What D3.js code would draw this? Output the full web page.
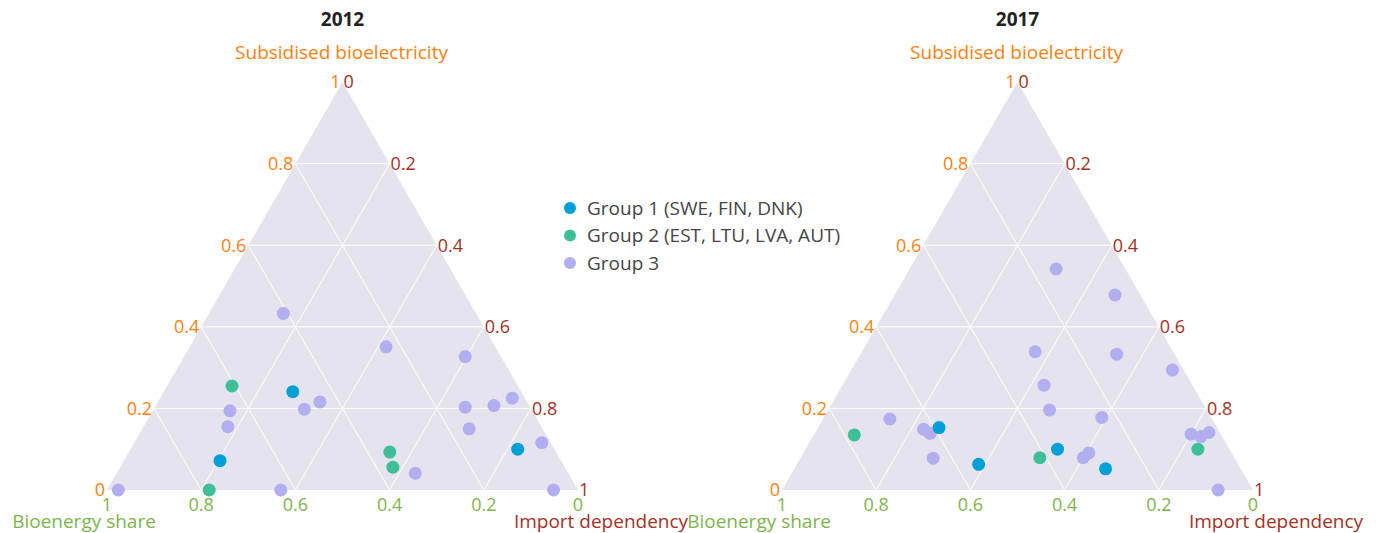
<!DOCTYPE html>
<html>
<head>
<meta charset="utf-8">
<script src="https://cdn.jsdelivr.net/npm/d3@7"></script>
<style>
  body { margin: 0; background: #fff; }
  text { font-family: "Open Sans", sans-serif; }
</style>
</head>
<body>
<script>

    var width = 1378, height = 533;

    var svg = d3.select("body")
    .append("svg")
    .attr("width", width)
    .attr("height", height);

    /* values, each point is [subsidised, bioenergy, import] */

    var years = ["2012", "2017"];
    var groups = ["Group 1 (SWE, FIN, DNK)", "Group 2 (EST, LTU, LVA, AUT)", "Group 3"];
    var axisTitles = ["Subsidised bioelectricity", "Bioenergy share", "Import dependency"];
    var ticks = [0, 0.2, 0.4, 0.6, 0.8, 1];
    var tickLabels = ["0", "0.2", "0.4", "0.6", "0.8", "1"];

    var g1_2012 = [[0.241, 0.485, 0.274], [0.072, 0.724, 0.204], [0.100, 0.078, 0.822]];
    var g2_2012 = [[0.255, 0.607, 0.138], [0.000, 0.783, 0.217], [0.093, 0.353, 0.554], [0.056, 0.365, 0.579]];
    var g3_2012 = [
        [0.433, 0.409, 0.158], [0.351, 0.232, 0.417], [0.327, 0.076, 0.597], [0.216, 0.440, 0.344],
        [0.198, 0.482, 0.320], [0.194, 0.642, 0.164], [0.155, 0.666, 0.179], [0.203, 0.138, 0.659],
        [0.207, 0.075, 0.718], [0.225, 0.027, 0.748], [0.150, 0.156, 0.694], [0.116, 0.019, 0.865],
        [0.041, 0.325, 0.634], [0.000, 0.976, 0.024], [0.000, 0.631, 0.369], [0.000, 0.052, 0.948]
    ];

    var g1_2017 = [[0.153, 0.590, 0.257], [0.063, 0.551, 0.386], [0.100, 0.365, 0.535], [0.052, 0.287, 0.661]];
    var g2_2017 = [[0.135, 0.779, 0.086], [0.079, 0.413, 0.508], [0.100, 0.067, 0.833]];
    var g3_2017 = [
        [0.542, 0.147, 0.311], [0.478, 0.054, 0.468], [0.339, 0.293, 0.368], [0.333, 0.123, 0.544],
        [0.294, 0.024, 0.682], [0.257, 0.315, 0.428], [0.196, 0.334, 0.470], [0.178, 0.232, 0.590],
        [0.174, 0.684, 0.142], [0.149, 0.625, 0.226], [0.139, 0.616, 0.245], [0.078, 0.640, 0.282],
        [0.079, 0.321, 0.600], [0.091, 0.303, 0.606], [0.137, 0.063, 0.800], [0.131, 0.045, 0.824],
        [0.141, 0.023, 0.836], [0.000, 0.074, 0.926]
    ];

    var series = {
        "2012": [g1_2012, g2_2012, g3_2012],
        "2017": [g1_2017, g2_2017, g3_2017]
    };

    var colors = ["#00a0d6", "#3ebf98", "#b2aef0"];
    var axisColors = ["#ff7f0e", "#7db54d", "#a5301f"];

    // one ternary per year
    var panels = [
        {year: "2012", left: 107},
        {year: "2017", left: 782}
    ];
    var side = 471, base = 490, triH = side * Math.sqrt(3) / 2;

    panels.forEach(function(p) {

        var x = d3.scaleLinear().domain([0, 1]).range([p.left, p.left + side]);
        var y = d3.scaleLinear().domain([0, 1]).range([base, base - triH]);

        // a = subsidised (top), b = bioenergy (bottom left), c = import (bottom right)
        function px(a, b, c) { return x(c + a / 2); }
        function py(a, b, c) { return y(a); }
        function pt(a, b, c) { return px(a, b, c) + "," + py(a, b, c); }

        var g = svg.append("g").attr("class", "ternary");

        g.append("polygon")
        .attr("points", [pt(1, 0, 0), pt(0, 1, 0), pt(0, 0, 1)].join(" "))
        .style("fill", "#e5e4ee");

        // grid
        var inner = ticks.slice(1, -1);
        var lines = [];
        inner.forEach(function(t) {
            lines.push([[t, 1 - t, 0], [t, 0, 1 - t]]);
            lines.push([[1 - t, t, 0], [0, t, 1 - t]]);
            lines.push([[1 - t, 0, t], [0, 1 - t, t]]);
        });

        g.selectAll("line.grid")
        .data(lines)
        .enter().append("line")
        .attr("class", "grid")
        .attr("x1", function(d) { return px.apply(null, d[0]); })
        .attr("y1", function(d) { return py.apply(null, d[0]); })
        .attr("x2", function(d) { return px.apply(null, d[1]); })
        .attr("y2", function(d) { return py.apply(null, d[1]); })
        .style("stroke", "#fff")
        .style("stroke-width", 1);

        // tick labels
        g.selectAll("text.atick")
        .data(ticks)
        .enter().append("text")
        .attr("class", "atick")
        .attr("x", function(d) { return px(d, 1 - d, 0) - 2; })
        .attr("y", function(d) { return py(d, 1 - d, 0); })
        .attr("dy", "0.35em")
        .style("text-anchor", "end")
        .style("font-size", "18px")
        .style("fill", axisColors[0])
        .text(function(d, i) { return tickLabels[i]; });

        g.selectAll("text.ctick")
        .data(ticks)
        .enter().append("text")
        .attr("class", "ctick")
        .attr("x", function(d) { return px(1 - d, 0, d) + 1; })
        .attr("y", function(d) { return py(1 - d, 0, d); })
        .attr("dy", "0.35em")
        .style("text-anchor", "start")
        .style("font-size", "18px")
        .style("fill", axisColors[2])
        .text(function(d, i) { return tickLabels[i]; });

        g.selectAll("text.btick")
        .data(ticks)
        .enter().append("text")
        .attr("class", "btick")
        .attr("x", function(d) { return px(0, d, 1 - d); })
        .attr("y", base + 15)
        .attr("dy", "0.35em")
        .style("text-anchor", "middle")
        .style("font-size", "18px")
        .style("fill", axisColors[1])
        .text(function(d, i) { return tickLabels[i]; });

        // titles
        g.append("text")
        .attr("x", px(1, 0, 0))
        .attr("y", 26)
        .style("text-anchor", "middle")
        .style("font-size", "19px")
        .style("font-weight", "bold")
        .style("fill", "#222")
        .text(p.year);

        g.append("text")
        .attr("x", px(1, 0, 0) - 1)
        .attr("y", 59)
        .style("text-anchor", "middle")
        .style("font-size", "19px")
        .style("fill", axisColors[0])
        .text(axisTitles[0]);

        g.append("text")
        .attr("x", px(0, 1, 0) - 23)
        .attr("y", 528)
        .style("text-anchor", "middle")
        .style("font-size", "19px")
        .style("fill", axisColors[1])
        .text(axisTitles[1]);

        g.append("text")
        .attr("x", px(0, 0, 1) + 23)
        .attr("y", 528)
        .style("text-anchor", "middle")
        .style("font-size", "19px")
        .style("fill", axisColors[2])
        .text(axisTitles[2]);

        // points, group 3 first so groups 1 and 2 sit on top
        var sets = series[p.year];
        [2, 1, 0].forEach(function(k) {
            g.selectAll("circle.g" + k)
            .data(sets[k])
            .enter().append("circle")
            .attr("class", "g" + k)
            .attr("cx", function(d) { return px(d[0], d[1], d[2]); })
            .attr("cy", function(d) { return py(d[0], d[1], d[2]); })
            .attr("r", 6.5)
            .style("fill", colors[k]);
        });
    });


    // Draw legend
    var legend = svg.selectAll(".legend")
    .data(groups)
    .enter().append("g")
    .attr("class", "legend")
    .attr("transform", function(d, i) { return "translate(570," + (208 + i * 27.5) + ")"; });

    legend.append("circle")
    .attr("r", 6)
    .style("fill", function(d, i) { return colors[i]; });

    legend.append("text")
    .attr("x", 17)
    .attr("dy", "0.35em")
    .style("font-size", "19px")
    .style("fill", "#444")
    .text(function(d) { return d; });

    </script>
</body>
</html>
